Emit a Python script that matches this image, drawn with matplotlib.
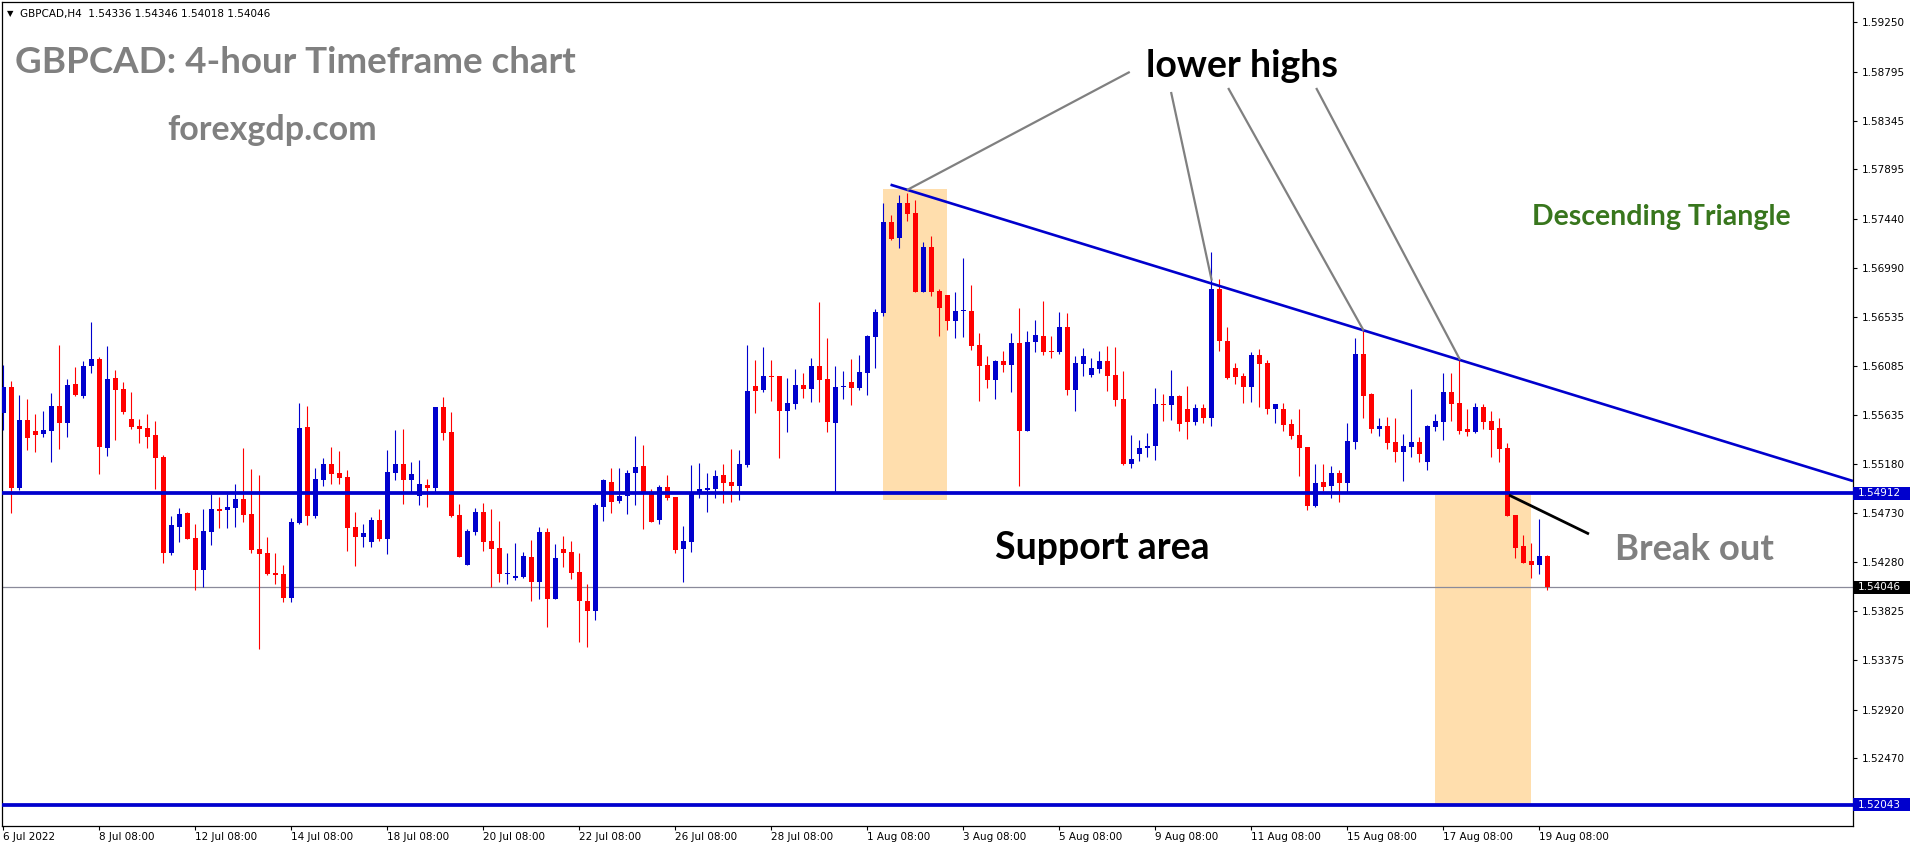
import numpy as np
import matplotlib.pyplot as plt
import matplotlib.transforms as mtransforms
from matplotlib.patches import Rectangle

# GBPCAD H4 candles, bar 0 = 6 Jul 2022 08:00 ... bar 193 = 19 Aug 2022 12:00
opens = [
    1.55648, 1.55891, 1.54964, 1.55587, 1.55486, 1.55461, 1.55489, 1.55716, 1.55563, 1.55919,
    1.55811, 1.56087, 1.56149, 1.55332, 1.55974, 1.55873, 1.55596, 1.55529, 1.55513, 1.55449,
    1.55246, 1.54365, 1.54605, 1.54730, 1.54500, 1.54209, 1.54559, 1.54767, 1.54761, 1.54780,
    1.54860, 1.54721, 1.54399, 1.54362, 1.54178, 1.54169, 1.53951, 1.54642, 1.55523, 1.54706,
    1.55038, 1.55182, 1.55099, 1.55062, 1.54602, 1.54513, 1.54466, 1.54666, 1.54491, 1.55102,
    1.55182, 1.55038, 1.54890, 1.54988, 1.54964, 1.55707, 1.55477, 1.54712, 1.54255, 1.54559,
    1.54740, 1.54473, 1.54408, 1.54166, 1.54135, 1.54144, 1.54325, 1.54098, 1.54559, 1.53935,
    1.54399, 1.54371, 1.54187, 1.53920, 1.53831, 1.54789, 1.55019, 1.54844, 1.54890, 1.55096,
    1.55163, 1.54912, 1.54666, 1.54970, 1.54878, 1.54399, 1.54463, 1.54912, 1.54942, 1.54952,
    1.55080, 1.55016, 1.54979, 1.55173, 1.55900, 1.55863, 1.55992, 1.55992, 1.55670, 1.55734,
    1.55909, 1.55873, 1.56084, 1.55965, 1.55560, 1.55891, 1.55937, 1.55882, 1.56023, 1.56355,
    1.56573, 1.57411, 1.57263, 1.57586, 1.57494, 1.56766, 1.57180, 1.56775, 1.56738, 1.56499,
    1.56591, 1.56591, 1.56278, 1.56094, 1.55959, 1.56130, 1.56097, 1.56296, 1.55489, 1.56302,
    1.56361, 1.56220, 1.56216, 1.56444, 1.55866, 1.56106, 1.56005, 1.56060, 1.56130, 1.56002,
    1.55780, 1.55185, 1.55277, 1.55326, 1.55345, 1.55737, 1.55728, 1.55808, 1.55691, 1.55572,
    1.55701, 1.55609, 1.56794, 1.56318, 1.56069, 1.55992, 1.55894, 1.56186, 1.56112, 1.55691,
    1.55688, 1.55553, 1.55452, 1.55338, 1.54798, 1.55013, 1.54982, 1.55099, 1.55010, 1.55387,
    1.56195, 1.55827, 1.55507, 1.55532, 1.55384, 1.55295, 1.55341, 1.55384, 1.55203, 1.55526,
    1.55572, 1.55848, 1.55747, 1.55507, 1.55480, 1.55710, 1.55581, 1.55516, 1.55332, 1.54715,
    1.54430, 1.54292, 1.54255, 1.54336,
]
highs = [
    1.56094, 1.55946, 1.55817, 1.55780, 1.55642, 1.55670, 1.55836, 1.56278, 1.55965, 1.56075,
    1.56130, 1.56490, 1.56164, 1.56269, 1.56048, 1.55937, 1.55845, 1.55596, 1.55642, 1.55578,
    1.55262, 1.54703, 1.54777, 1.54740, 1.54629, 1.54767, 1.54906, 1.54878, 1.54906, 1.54998,
    1.55329, 1.55136, 1.55081, 1.54510, 1.54362, 1.54252, 1.54688, 1.55744, 1.55716, 1.55148,
    1.55240, 1.55341, 1.55305, 1.55127, 1.54743, 1.54632, 1.54694, 1.54767, 1.55311, 1.55495,
    1.55504, 1.55203, 1.55222, 1.55044, 1.55707, 1.55799, 1.55664, 1.54816, 1.54583, 1.54780,
    1.54826, 1.54767, 1.54660, 1.54365, 1.54457, 1.54374, 1.54485, 1.54605, 1.54592, 1.54448,
    1.54522, 1.54476, 1.54365, 1.54080, 1.54826, 1.55047, 1.55148, 1.55148, 1.55124, 1.55440,
    1.55357, 1.54949, 1.54988, 1.55081, 1.54881, 1.54611, 1.55173, 1.55191, 1.55099, 1.55127,
    1.55182, 1.55320, 1.55311, 1.56278, 1.56140, 1.56259, 1.56140, 1.55992, 1.55974, 1.56057,
    1.56020, 1.56158, 1.56674, 1.56342, 1.56084, 1.56038, 1.56149, 1.56186, 1.56373, 1.56606,
    1.57586, 1.57475, 1.57659, 1.57678, 1.57613, 1.57226, 1.57282, 1.56794, 1.56738, 1.56766,
    1.57079, 1.56830, 1.56388, 1.56176, 1.56140, 1.56223, 1.56388, 1.56619, 1.56407, 1.56508,
    1.56683, 1.56361, 1.56582, 1.56573, 1.56176, 1.56250, 1.56158, 1.56223, 1.56269, 1.56259,
    1.56041, 1.55449, 1.55403, 1.55467, 1.55885, 1.55830, 1.56051, 1.55814, 1.55903, 1.55737,
    1.55737, 1.57137, 1.56889, 1.56447, 1.56115, 1.56023, 1.56213, 1.56241, 1.56140, 1.55734,
    1.55744, 1.55596, 1.55688, 1.55338, 1.55185, 1.55185, 1.55166, 1.55130, 1.55562, 1.56345,
    1.56410, 1.55839, 1.55609, 1.55618, 1.55609, 1.55461, 1.55876, 1.55434, 1.55544, 1.55645,
    1.56023, 1.56023, 1.56143, 1.55691, 1.55747, 1.55737, 1.55673, 1.55609, 1.55378, 1.54715,
    1.54531, 1.54457, 1.54678, 1.54346,
]
lows = [
    1.55495, 1.54734, 1.54945, 1.55311, 1.55295, 1.55434, 1.55203, 1.55323, 1.55434, 1.55808,
    1.55793, 1.56023, 1.55093, 1.55259, 1.55406, 1.55639, 1.55501, 1.55378, 1.55332, 1.54955,
    1.54273, 1.54347, 1.54467, 1.54494, 1.54024, 1.54049, 1.54439, 1.54595, 1.54592, 1.54605,
    1.54648, 1.54365, 1.53481, 1.54160, 1.54077, 1.53914, 1.53914, 1.54629, 1.54623, 1.54688,
    1.54982, 1.55001, 1.55001, 1.54384, 1.54246, 1.54420, 1.54420, 1.54476, 1.54356, 1.55038,
    1.54810, 1.54921, 1.54801, 1.54789, 1.54921, 1.55406, 1.54697, 1.54328, 1.54255, 1.54531,
    1.54384, 1.54052, 1.54098, 1.54080, 1.54110, 1.54135, 1.53923, 1.53935, 1.53684, 1.53935,
    1.54236, 1.54120, 1.53546, 1.53500, 1.53748, 1.54660, 1.54734, 1.54826, 1.54718, 1.54807,
    1.54583, 1.54648, 1.54629, 1.54850, 1.54362, 1.54095, 1.54371, 1.54869, 1.54740, 1.54869,
    1.54823, 1.54832, 1.54850, 1.55154, 1.55652, 1.55845, 1.55762, 1.55237, 1.55477, 1.55688,
    1.55790, 1.55753, 1.55753, 1.55477, 1.54912, 1.55780, 1.55725, 1.55863, 1.55820, 1.56066,
    1.56548, 1.57245, 1.57171, 1.57420, 1.56766, 1.56766, 1.56729, 1.56364, 1.56416, 1.56342,
    1.56355, 1.56235, 1.55765, 1.55885, 1.55784, 1.56032, 1.55848, 1.54979, 1.55489, 1.56213,
    1.56189, 1.56161, 1.56198, 1.55820, 1.55673, 1.55995, 1.55986, 1.56023, 1.55857, 1.55719,
    1.55176, 1.55148, 1.55213, 1.55249, 1.55222, 1.55581, 1.55590, 1.55489, 1.55415, 1.55544,
    1.55562, 1.55535, 1.56226, 1.55968, 1.55922, 1.55747, 1.55756, 1.55710, 1.55645, 1.55562,
    1.55489, 1.55415, 1.55074, 1.54761, 1.54789, 1.54936, 1.54872, 1.54835, 1.54927, 1.55323,
    1.55609, 1.55470, 1.55443, 1.55323, 1.55203, 1.55028, 1.55249, 1.55203, 1.55130, 1.55489,
    1.55406, 1.55581, 1.55461, 1.55443, 1.55470, 1.55507, 1.55249, 1.55203, 1.54706, 1.54319,
    1.54273, 1.54135, 1.54172, 1.54018,
]
closes = [
    1.55894, 1.54964, 1.55587, 1.55424, 1.55452, 1.55495, 1.55716, 1.55563, 1.55909, 1.55817,
    1.56084, 1.56149, 1.55341, 1.55965, 1.55866, 1.55664, 1.55526, 1.55507, 1.55434, 1.55240,
    1.54365, 1.54620, 1.54721, 1.54494, 1.54209, 1.54565, 1.54767, 1.54752, 1.54786, 1.54860,
    1.54715, 1.54390, 1.54353, 1.54169, 1.54160, 1.53951, 1.54648, 1.55513, 1.54706, 1.55044,
    1.55182, 1.55093, 1.55056, 1.54595, 1.54513, 1.54549, 1.54666, 1.54491, 1.55108, 1.55182,
    1.55038, 1.55090, 1.54998, 1.54964, 1.55707, 1.55470, 1.54706, 1.54328, 1.54565, 1.54740,
    1.54467, 1.54402, 1.54172, 1.54178, 1.54150, 1.54334, 1.54098, 1.54559, 1.53935, 1.54316,
    1.54365, 1.54181, 1.53923, 1.53831, 1.54804, 1.55035, 1.54835, 1.54890, 1.55099, 1.55157,
    1.54918, 1.54648, 1.54970, 1.54872, 1.54390, 1.54473, 1.54906, 1.54952, 1.54961, 1.55071,
    1.55007, 1.54979, 1.55182, 1.55854, 1.55854, 1.55992, 1.55983, 1.55670, 1.55744, 1.55909,
    1.55873, 1.56084, 1.55955, 1.55569, 1.55891, 1.55900, 1.55882, 1.56029, 1.56361, 1.56579,
    1.57411, 1.57251, 1.57586, 1.57484, 1.56766, 1.57180, 1.56766, 1.56619, 1.56499, 1.56591,
    1.56597, 1.56272, 1.56087, 1.55959, 1.56130, 1.56097, 1.56296, 1.55489, 1.56305, 1.56370,
    1.56216, 1.56216, 1.56444, 1.55866, 1.56112, 1.56176, 1.56063, 1.56130, 1.55995, 1.55774,
    1.55185, 1.55228, 1.55326, 1.55348, 1.55734, 1.55728, 1.55808, 1.55553, 1.55572, 1.55701,
    1.55609, 1.56794, 1.56318, 1.55977, 1.55986, 1.55894, 1.56186, 1.56106, 1.55691, 1.55734,
    1.55544, 1.55443, 1.55332, 1.54798, 1.55010, 1.54973, 1.55096, 1.55010, 1.55394, 1.56195,
    1.55811, 1.55507, 1.55532, 1.55378, 1.55295, 1.55348, 1.55384, 1.55277, 1.55535, 1.55578,
    1.55848, 1.55737, 1.55489, 1.55480, 1.55710, 1.55572, 1.55498, 1.55323, 1.54706, 1.54411,
    1.54273, 1.54255, 1.54338, 1.54046,
]

date_ticks = [0, 12, 24, 36, 48, 60, 72, 84, 96, 108, 120, 132, 144, 156, 168, 180, 192]
date_labels = ['6 Jul 2022', '8 Jul 08:00', '12 Jul 08:00', '14 Jul 08:00', '18 Jul 08:00',
               '20 Jul 08:00', '22 Jul 08:00', '26 Jul 08:00', '28 Jul 08:00', '1 Aug 08:00',
               '3 Aug 08:00', '5 Aug 08:00', '9 Aug 08:00', '11 Aug 08:00', '15 Aug 08:00',
               '17 Aug 08:00', '19 Aug 08:00']
price_ticks = [1.59250, 1.58795, 1.58345, 1.57895, 1.57440, 1.56990, 1.56535, 1.56085,
               1.55635, 1.55180, 1.54730, 1.54280, 1.53825, 1.53375, 1.52920, 1.52470]

support_level = 1.54912
bottom_level = 1.52043
bid_price = 1.54046

# drawn objects (bar index, price)
trend_x, trend_y = [110.9, 231.2], [1.57755, 1.55025]
breakout_x, breakout_y = [188.2, 198.2], [1.54896, 1.54537]
pointers = [([112.96, 140.8], [1.57706, 1.58794]),
            ([145.96, 151.05], [1.58609, 1.56871]),
            ([153.1, 170.04], [1.58646, 1.56410]),
            ([164.1, 182.09], [1.58646, 1.56140])]
boxes = [(110, 118, 1.54850, 1.57716), (179, 191, 1.52043, 1.54896)]

BLUE = '#0000CD'
RED = '#FF0000'
BOX = '#FFDEAD'
GRAY = '#808080'
W, H = 1916, 850

fig = plt.figure(figsize=(W / 100, H / 100), dpi=100)
fig.patch.set_facecolor('white')
ax = fig.add_axes([2 / W, 24 / H, 1851 / W, 824 / H])
ax.set_xlim(-0.1625, 231.2)
ax.set_ylim(1.51847, 1.59438)

for x0, x1, y0, y1 in boxes:
    ax.add_patch(Rectangle((x0, y0), x1 - x0, y1 - y0, facecolor=BOX, edgecolor='none', zorder=1))

o = np.array(opens)
h = np.array(highs)
l = np.array(lows)
c = np.array(closes)
x = np.arange(len(c))
col = [BLUE if cc >= oo else RED for oo, cc in zip(o, c)]
ax.vlines(x, l, h, colors=col, lw=0.8, zorder=3)
body = np.maximum(np.abs(c - o), 0.00009)
ax.bar(x, body, width=0.62, bottom=np.minimum(o, c), color=col, linewidth=0, zorder=4)

ax.axhline(support_level, color=BLUE, lw=2.7, zorder=5)
ax.axhline(bottom_level, color=BLUE, lw=2.7, zorder=5)
ax.axhline(bid_price, color='#8a8a9a', lw=0.9, zorder=2)
ax.plot(trend_x, trend_y, color=BLUE, lw=1.9, zorder=5, solid_capstyle='butt')
ax.plot(breakout_x, breakout_y, color='black', lw=2.0, zorder=6, solid_capstyle='butt')
for px_, py_ in pointers:
    ax.plot(px_, py_, color=GRAY, lw=1.6, zorder=6, solid_capstyle='butt')

# axes / ticks, MT4 style
for s in ax.spines.values():
    s.set_linewidth(0.9)
ax.yaxis.tick_right()
ax.set_yticks(price_ticks)
ax.set_yticklabels([f'{p:.5f}' for p in price_ticks])
ax.set_xticks(date_ticks)
ax.set_xticklabels(date_labels, ha='left')
ax.tick_params(axis='y', direction='out', length=3, width=0.8, labelsize=7.5, pad=3.5)
ax.tick_params(axis='x', direction='out', length=3, width=0.8, labelsize=7.5, pad=1.5)

# price tags on the right axis
tag = mtransforms.blended_transform_factory(ax.transAxes, ax.transData)
for price, fc in [(support_level, BLUE), (bottom_level, BLUE), (bid_price, 'black')]:
    ax.add_patch(Rectangle((1.0, price - 0.00062), 57 / 1851, 0.00124, transform=tag,
                           facecolor=fc, edgecolor='none', clip_on=False, zorder=10))
    ax.text(1.0 + 5 / 1851, price, f'{price:.5f}', transform=tag, color='white',
            fontsize=7.5, va='center', ha='left', zorder=11, clip_on=False)

def fxy(px, py):
    return px / W, 1 - py / H

fig.text(*fxy(7, 14), '\u25bc', fontsize=6, va='center', ha='left')
fig.text(*fxy(20, 14), 'GBPCAD,H4  1.54336 1.54346 1.54018 1.54046', fontsize=7.5,
         va='center', ha='left')

font = 'Lato'
fig.text(*fxy(15, 73), 'GBPCAD: 4-hour Timeframe chart', fontsize=26.5, family=font,
         weight='bold', color=GRAY, va='baseline', ha='left')
fig.text(*fxy(167, 140), 'forexgdp.com', fontsize=24.5, family=font,
         weight='bold', color=GRAY, va='baseline', ha='left')
fig.text(*fxy(1146, 77), 'lower highs', fontsize=27, family=font,
         weight='bold', color='black', va='baseline', ha='left')
fig.text(*fxy(1532, 225), 'Descending Triangle', fontsize=20.5, family=font,
         weight='bold', color='#38761D', va='baseline', ha='left')
fig.text(*fxy(995, 559), 'Support area', fontsize=27, family=font,
         weight='bold', color='black', va='baseline', ha='left')
fig.text(*fxy(1615, 560), 'Break out', fontsize=26.3, family=font,
         weight='bold', color=GRAY, va='baseline', ha='left')

fig.savefig('out.png', dpi=100)
